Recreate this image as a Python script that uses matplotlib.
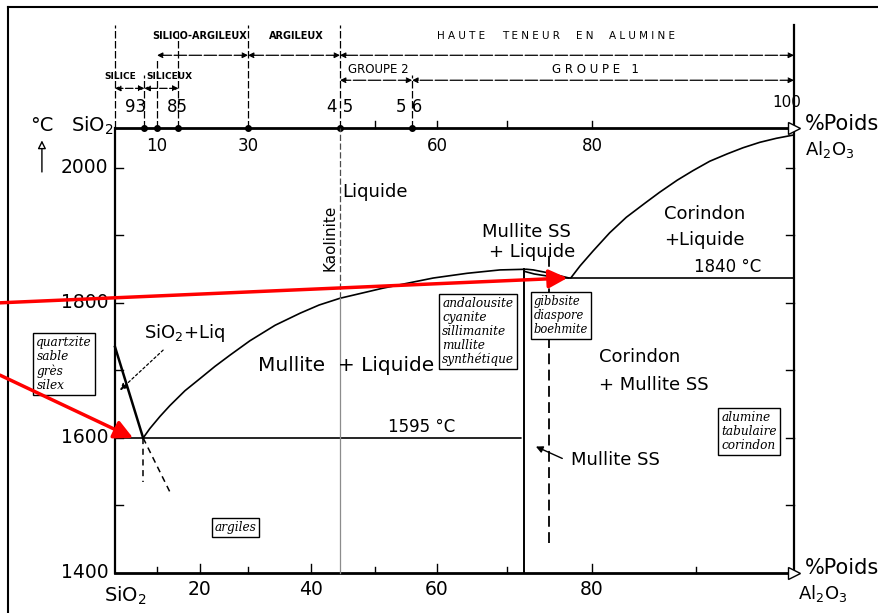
import numpy as np
import matplotlib
matplotlib.use("Agg")
import matplotlib.pyplot as plt

# the scanned diagram has an uneven composition axis: wt% Al2O3 -> pixel column
wt_knots = [-40, 0, 10, 20, 30, 40, 45, 50, 60, 70, 80, 90, 100, 140]
px_knots = [-53, 115, 157, 200, 248, 311, 340, 375, 437, 507, 592, 696, 794, 1186]


def fwd(x):
    return np.interp(x, wt_knots, px_knots)


def inv(p):
    return np.interp(p, px_knots, wt_knots)


# --- phase boundaries (wt% Al2O3, degC) ---
silica_liq_wt = [0, 6.7]
silica_liq_T = [1735, 1600]
silica_ext_wt = [6.7, 13.0]
silica_ext_T = [1600, 1520]

mullite_liq_wt = [6.7, 8.3, 10.7, 13.0, 16.5, 20, 23.1, 26.3, 30.3, 34.3, 38.3, 41.4, 45,
                  51.3, 59.4, 64.3, 69, 72.3, 73.1, 74.7, 77.3]
mullite_liq_T = [1600, 1614, 1632, 1648, 1670, 1688, 1706, 1723, 1744, 1767, 1785, 1797, 1807,
                 1822, 1837, 1844, 1849, 1850, 1849, 1845, 1837]
mullite_sol_wt = [72, 73.2, 74.7, 76.5]
mullite_sol_T = [1847, 1843, 1840, 1837]

corundum_liq_wt = [77.5, 78.6, 80.1, 81.7, 83.3, 85.1, 86.5, 88.2, 89.7, 91.4, 93.2, 94.8,
                   96.5, 98.2, 100]
corundum_liq_T = [1837, 1855, 1877, 1904, 1927, 1948, 1964, 1982, 1996, 2010, 2021, 2030,
                  2038, 2044, 2049]

eutectic_low = (6.7, 1600)
eutectic_high = (77.1, 1837)
mullite_wt = 72
mullite_ss_wt = 75
kaolinite_wt = 45
kaolinite_liq_T = 1807

# axes
T_bottom, T_top = 1400, 2060
x_ticks = [10, 20, 30, 40, 50, 60, 70, 80, 90]
x_labels = [20, 40, 60, 80]
top_labels_below = [10, 30, 60, 80]
top_ticks_up = [50, 60, 70, 80]
top_dots = [7, 10, 15, 30, 45, 56]
y_ticks = [1500, 1600, 1700, 1800, 1900, 2000]
y_labels = [1400, 1600, 1800, 2000]

# classification bands above the diagram: (start, end, label, label x)
band_row1 = [(10, 30, "SILICO-ARGILEUX", 20), (30, 45, "ARGILEUX", 37.6),
             (45, 100, None, None)]
haute_words = [("H A U T E", 63.4), ("T E N E U R", 72.8), ("E N", 79.2), ("A L U M I N E", 84.8)]
band_row2 = [(0, 7, "SILICE", 1.2), (7, 15, "SILICEUX", 13.0)]
band_groups = [(45, 56, "GROUPE 2", 50.5), (56, 100, "G R O U P E   1", 80.3)]

fig = plt.figure(figsize=(8.79, 6.13), dpi=100)
ax = fig.add_axes([0, 0, 1, 1])
ax.set_xscale('function', functions=(fwd, inv))
ax.set_xlim(inv(0), inv(879))
ax.set_ylim(1340.7, 2248.9)
ax.axis('off')

k = dict(color='black', lw=1.2, solid_capstyle='round', solid_joinstyle='round')

# frame of the scan
ax.plot([0.009, 0.009], [0, 0.989], transform=ax.transAxes, color='black', lw=1.5)
ax.plot([0.009, 1], [0.989, 0.989], transform=ax.transAxes, color='black', lw=1.5)

# main axes
ax.plot([0, 100], [T_bottom, T_bottom], color='black', lw=2)
ax.plot([0, 100], [T_top, T_top], color='black', lw=2)
ax.plot([0, 0], [T_bottom, T_top], color='black', lw=1.6)
ax.plot([100, 100], [T_bottom, 2212], color='black', lw=1.6)
ax.plot([100], [T_bottom], marker='>', ms=9, mfc='white', mec='black', mew=1)
ax.plot([100], [T_top], marker='>', ms=9, mfc='white', mec='black', mew=1)

for x in x_ticks:
    h = 14 if x in x_labels else 9
    ax.plot([x, x], [T_bottom, T_bottom + h], color='black', lw=1)
for x in x_labels:
    ax.text(x, 1376, str(x), ha='center', va='center', fontsize=13.5)
for x in top_ticks_up:
    ax.plot([x, x], [T_top, T_top + 10], color='black', lw=1)
for x in top_labels_below:
    ax.text(x, 2033, str(x), ha='center', va='center', fontsize=12)
ax.plot(top_dots, [T_top] * len(top_dots), 'o', color='black', ms=4)

for t in y_ticks:
    ax.plot([0, 1.9], [t, t], color='black', lw=1)
    ax.plot([99.2, 100], [t, t], color='black', lw=1)
for t in y_labels:
    ax.text(-1.6, t, str(t), ha='right', va='center', fontsize=13.5)

# composition marks above the top axis
for x, t in [(0, 2212), (7, 2138), (10, 2160), (15, 2201), (30, 2212), (45, 2212), (56, 2138)]:
    ax.plot([x, x], [T_top, t], color='black', lw=0.9, ls=(0, (6, 2)))
for x, s in [(4.8, "93"), (14.8, "85"), (45, "4 5"), (55.5, "5 6")]:
    ax.text(x, 2090, s, ha='center', va='center', fontsize=12)
ax.text(99.3, 2097, "100", ha='center', va='center', fontsize=11)

arrow = dict(arrowstyle='<|-|>', color='black', lw=0.9, mutation_scale=8, shrinkA=0, shrinkB=0)
for a, b, s, xl in band_row1:
    ax.annotate("", xy=(a, 2167), xytext=(b, 2167), arrowprops=dict(arrow, linestyle=(0, (10, 2))))
    if s:
        ax.text(xl, 2195, s, ha='center', va='center', fontsize=7, fontweight='bold')
for s, xl in haute_words:
    ax.text(xl, 2195, s, ha='center', va='center', fontsize=7.5)
for a, b, s, xl in band_row2:
    ax.annotate("", xy=(a, 2118), xytext=(b, 2118), arrowprops=dict(arrow, linestyle=(0, (6, 2))))
    ax.text(xl, 2135, s, ha='center', va='center', fontsize=6.5, fontweight='bold')
for a, b, s, xl in band_groups:
    ax.annotate("", xy=(a, 2130), xytext=(b, 2130), arrowprops=dict(arrow, linestyle=(0, (10, 2))))
    ax.text(xl, 2146, s, ha='center', va='center', fontsize=8.5)

# axis end labels
ax.text(-0.3, 2062, r"SiO$_2$", ha='right', va='center', fontsize=14)
ax.text(2.4, 1366, r"SiO$_2$", ha='center', va='center', fontsize=14)
ax.text(101.1, 2065, "%Poids", ha='left', va='center', fontsize=15)
ax.text(103.6, 2028, r"Al$_2$O$_3$", ha='center', va='center', fontsize=13)
ax.text(101.1, 1408, "%Poids", ha='left', va='center', fontsize=15)
ax.text(102.9, 1370, r"Al$_2$O$_3$", ha='center', va='center', fontsize=13)
ax.text(-17.4, 2063, "°C", ha='center', va='center', fontsize=14)
ax.annotate("", xy=(-17.4, 2045), xytext=(-17.4, 1990),
            arrowprops=dict(arrowstyle='-|>', color='black', lw=1, mutation_scale=12, fc='white'))

# phase boundaries
ax.plot(silica_liq_wt, silica_liq_T, color='black', lw=1.8)
ax.plot(silica_ext_wt, silica_ext_T, color='black', lw=1.1, ls=(0, (4, 3)))
ax.plot([eutectic_low[0]] * 2, [eutectic_low[1], 1535], color='black', lw=1.1, ls=(0, (4, 3)))
ax.plot(mullite_liq_wt, mullite_liq_T, **k)
ax.plot(mullite_sol_wt, mullite_sol_T, **k)
ax.plot(corundum_liq_wt, corundum_liq_T, **k)
ax.plot([0, 71.6], [1600, 1600], **k)
ax.plot([mullite_ss_wt, 100], [1837, 1837], **k)
ax.plot([mullite_wt, mullite_wt], [T_bottom, 1850], color='black', lw=1.4)
ax.plot([mullite_ss_wt, mullite_ss_wt], [1444, 1871], color='black', lw=1.3, ls=(0, (6, 3)))
ax.plot([kaolinite_wt, kaolinite_wt], [kaolinite_liq_T, T_top], color='0.3', lw=0.9, ls=(0, (5, 2)))
ax.plot([kaolinite_wt, kaolinite_wt], [T_bottom, kaolinite_liq_T], color='0.55', lw=0.9)

# region labels
fs = 13
ax.text(45.3, 1964, "Liquide", ha='left', va='center', fontsize=fs)
ax.text(43.3, 1896, "Kaolinite", ha='center', va='center', fontsize=11, rotation=90)
ax.text(72.3, 1905, "Mullite SS", ha='center', va='center', fontsize=fs)
ax.text(73.0, 1876, "+ Liquide", ha='center', va='center', fontsize=fs)
ax.text(90.9, 1932, "Corindon", ha='center', va='center', fontsize=fs)
ax.text(90.9, 1893, "+Liquide", ha='center', va='center', fontsize=fs)
ax.text(93.2, 1853, "1840 °C", ha='center', va='center', fontsize=12)
ax.text(45.9, 1708, "Mullite  + Liquide", ha='center', va='center', fontsize=14.5)
ax.text(16.3, 1756, r"SiO$_2$+Liq", ha='center', va='center', fontsize=13)
ax.text(57.6, 1616, "1595 °C", ha='center', va='center', fontsize=12)
ax.text(84.6, 1720, "Corindon", ha='center', va='center', fontsize=fs)
ax.text(85.9, 1679, "+ Mullite SS", ha='center', va='center', fontsize=fs)
ax.text(77.5, 1567, "Mullite SS", ha='left', va='center', fontsize=fs)
ax.annotate("", xy=(73.1, 1589), xytext=(76.8, 1568),
            arrowprops=dict(arrowstyle='-|>', color='black', lw=1, mutation_scale=10))
ax.annotate("", xy=(0.7, 1668), xytext=(11.9, 1733),
            arrowprops=dict(arrowstyle='-|>', color='black', lw=0.9, ls=(0, (2, 2)), mutation_scale=10))

# raw material boxes
box = dict(boxstyle='square,pad=0.25', fc='white', ec='black', lw=1)
bt = dict(ha='center', va='center', fontsize=8.7, family='DejaVu Serif', style='italic',
          multialignment='left', linespacing=1.1, bbox=box)
ax.text(-12.1, 1710, "quartzite\nsable\ngrès\nsilex", **bt)
ax.text(65.9, 1758, "andalousite\ncyanite\nsillimanite\nmullite\nsynthétique", **bt)
ax.text(76.3, 1782, "gibbsite\ndiaspore\nboehmite", **dict(bt, fontsize=8.3))
ax.text(95.4, 1609, "alumine\ntabulaire\ncorindon", **bt)
ax.text(27.4, 1468, "argiles", **bt)

# red pointers to the two eutectics
red = dict(arrowstyle='-|>', color='red', lw=2.5, mutation_scale=28, shrinkA=0, shrinkB=0)
ax.annotate("", xy=eutectic_high, xytext=(0, 0.506), xycoords='data',
            textcoords='axes fraction', arrowprops=red)
ax.annotate("", xy=(4.3, 1600), xytext=(0, 0.388), xycoords='data',
            textcoords='axes fraction', arrowprops=red)

fig.savefig("out.png", dpi=100)
